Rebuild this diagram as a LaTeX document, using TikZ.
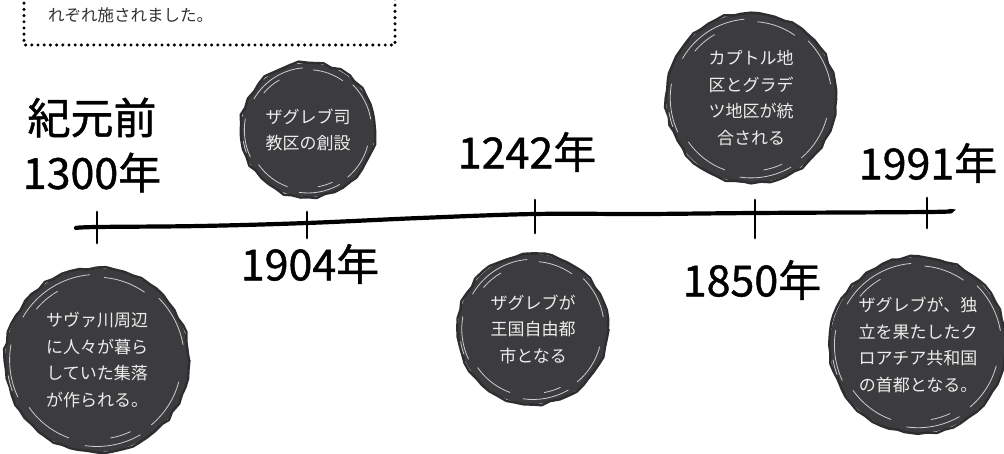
\documentclass[tikz,border=0pt]{standalone}
\usepackage{fontspec}
\newfontfamily\jp{Noto Sans CJK JP}
\newfontfamily\jphand[FakeBold=1.0]{Noto Sans CJK JP}
\usetikzlibrary{decorations.pathmorphing}
\definecolor{blobgray}{HTML}{3C3B3E}
\definecolor{blobedge}{HTML}{2E2D30}
\definecolor{blobtext}{HTML}{EDEDED}
\definecolor{boxtext}{HTML}{333333}
\newcommand\scribble[2]{%
  \draw[blobedge, line width=2.4pt, decorate, decoration={random steps, segment length=9pt, amplitude=1.5pt}] (#1.center) circle[radius=#2pt];
  \foreach \a/\b/\f in {95/150/0.93, 170/205/0.95, 215/250/0.9, 262/300/0.94, 310/345/0.92, 10/45/0.95, 55/85/0.9, 120/140/0.86, 280/295/0.86, 190/200/0.98} {
    \draw[white, line width=0.8pt, opacity=0.75, line cap=round]
      ([shift={(\a:\f*#2pt)}]#1.center) arc[start angle=\a, end angle=\b, radius=\f*#2pt];
  }%
}
\tikzset{
  blob/.style={circle, fill=blobgray, text=blobtext, align=center, inner sep=0pt,
    minimum size=#1, font=\jp\fontsize{17}{26.5}\selectfont},
  yearlbl/.style={text=black, font=\jphand\fontsize{43}{55}\selectfont, inner sep=0pt, align=center},
  tickmark/.style={line width=2.8pt, line cap=round},
  dotline/.style={line width=3.4pt, line cap=round, dash pattern=on 0pt off 6.2pt},
}
\begin{document}
\begin{tikzpicture}[x=1pt, y=-1pt]
\useasboundingbox (0,0) rectangle (1004,454);
% top dotted box
\draw[dotline] (24,-3) -- (24,45) -- (395,45) -- (395,-3);
\node[text=boxtext, font=\jp\fontsize{16.5}{18}\selectfont, anchor=west, inner sep=0pt] (boxtxt) at (48,15) {れぞれ施されました。};
% timeline coordinates
\coordinate (s) at (76,228);
\coordinate (t1) at (97,227);
\coordinate (m1) at (200,226);
\coordinate (t2) at (307,223);
\coordinate (m2) at (420,218);
\coordinate (t3) at (535,214);
\coordinate (m3) at (645,214);
\coordinate (t4) at (755,213);
\coordinate (t5) at (927,212);
\coordinate (e) at (950,211);
\draw[line width=4.2pt, line cap=round] plot[smooth, tension=0.6] coordinates {(s) (t1) (m1) (t2) (m2) (t3) (m3) (t4) (t5) (e)};
\draw[tickmark] ([yshift=15pt]t1) -- ([yshift=-16pt]t1);
\draw[tickmark] ([yshift=11pt]t2) -- ([yshift=-15pt]t2);
\draw[tickmark] ([yshift=14pt]t3) -- ([yshift=-19pt]t3);
\draw[tickmark] ([yshift=13pt]t4) -- ([yshift=-25pt]t4);
\draw[tickmark] ([yshift=14pt]t5) -- ([yshift=-16pt]t5);
% year labels
\node[yearlbl] (y1300) at (92,145) {紀元前\\1300年};
\node[yearlbl] (y1904) at (310,264) {1904年};
\node[yearlbl] (y1242) at (527,152) {1242年};
\node[yearlbl] (y1850) at (752,280) {1850年};
\node[yearlbl] (y1991) at (928,163) {1991年};
% blobs
\node[blob=184pt] (b1300) at (97,360) {サヴァ川周辺\\に人々が暮ら\\していた集落\\が作られる。};
\scribble{b1300}{92}
\node[blob=134pt] (b1904) at (308,130) {ザグレブ司\\教区の創設};
\scribble{b1904}{67}
\node[blob=150pt] (b1242) at (533,329) {ザグレブが\\王国自由都\\市となる};
\scribble{b1242}{75}
\node[blob=170pt] (b1850) at (751,98) {カプトル地\\区とグラデ\\ツ地区が統\\合される};
\scribble{b1850}{85}
\node[blob=176pt] (b1991) at (918,345) {ザグレブが、独\\立を果たしたク\\ロアチア共和国\\の首都となる。};
\scribble{b1991}{88}
\end{tikzpicture}
\end{document}
